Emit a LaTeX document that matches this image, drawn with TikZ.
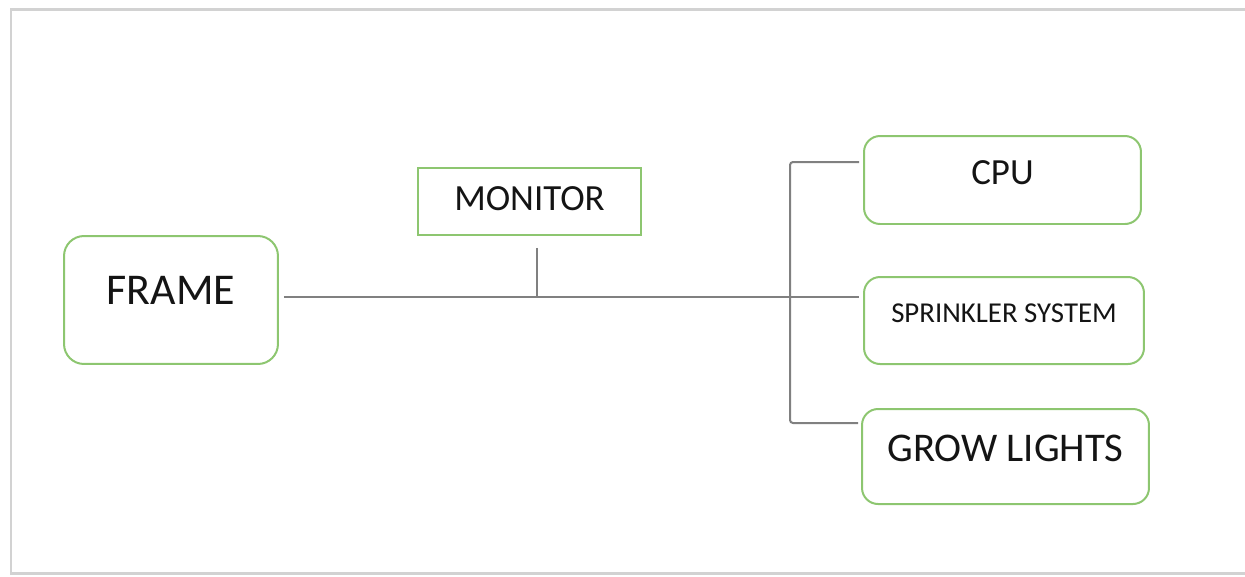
\documentclass[tikz,border=0pt]{standalone}
\usepackage{fontspec}
\setmainfont{Carlito}
\usepackage{tikz}
\usetikzlibrary{calc}
\definecolor{boxgreen}{RGB}{141,198,112}
\definecolor{linkgray}{RGB}{128,128,128}
\definecolor{inkgray}{RGB}{20,20,20}
\tikzset{ block/.style = {rectangle, rounded corners=0.32cm, draw=boxgreen, line width=0.04cm, text=inkgray, align=center} }
\tikzset{ link/.style = {draw=linkgray, line width=0.04cm} }

\begin{document}
\begin{tikzpicture}[x=0.02cm, y=-0.02cm]
        \clip (0,0) rectangle (1245,576);
        \draw[gray!35, line width=0.06cm] (11,9) rectangle (1290,573);
        \node[block, rounded corners=0.4cm, minimum width=4.28cm, minimum height=2.56cm, text depth=0.38cm, font=\fontsize{25}{30}\selectfont] (FRAME) at (171,300) {FRAME};
        \node[block, sharp corners, minimum width=4.46cm, minimum height=1.34cm, text depth=0.1cm, font=\fontsize{21}{25}\selectfont] (MON) at (529.5,201.5) {MONITOR};
        \node[block, minimum width=5.54cm, minimum height=1.76cm, text depth=0.3cm, font=\fontsize{21}{25}\selectfont] (CPU) at (1002.5,180) {CPU};
        \node[block, minimum width=5.6cm, minimum height=1.74cm, text depth=0.3cm, font=\fontsize{16.4}{20}\selectfont] (SPRINK) at (1004,320.5) {SPRINKLER SYSTEM};
        \node[block, minimum width=5.74cm, minimum height=1.9cm, text depth=0.32cm, font=\fontsize{23.2}{28}\selectfont] (GROW) at (1005.5,456.5) {GROW LIGHTS};
        \coordinate (bus) at (537,297);
        \coordinate (brtop) at (790,162);
        \coordinate (brbot) at (790,423);
        \draw[link] ([xshift=0.1cm]FRAME.east |- bus) -- ([xshift=-0.08cm]SPRINK.west |- bus);
        \draw[link] ([yshift=-0.24cm]MON.south -| bus) -- (bus);
        \draw[link, rounded corners=0.06cm] ([xshift=-0.08cm]CPU.west |- brtop) -- (brtop) -- (brbot) -- ([xshift=-0.06cm]GROW.west |- brbot);
\end{tikzpicture}
\end{document}
